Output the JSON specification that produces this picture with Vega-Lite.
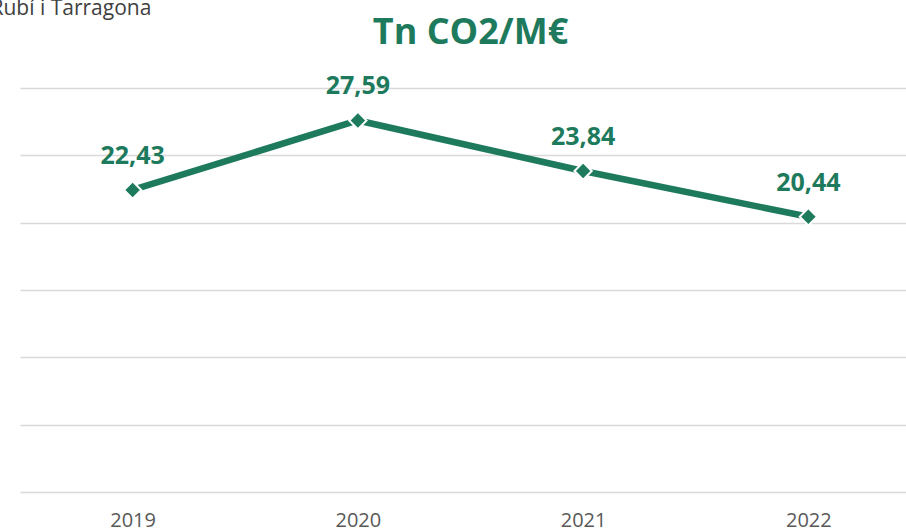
{
  "$schema": "https://vega.github.io/schema/vega-lite/v6.json",
  "autosize": {"type": "none"},
  "width": 901,
  "height": 404,
  "padding": {"left": 20, "top": 88, "right": 0, "bottom": 40},
  "background": "white",
  "title": {
    "text": "Tn CO2/M€",
    "font": "Open Sans",
    "fontSize": 36,
    "fontWeight": "bold",
    "color": "#1E7A5C",
    "anchor": "middle",
    "frame": "group",
    "offset": -55
  },
  "data": {
    "values": [
      {"year": "2019", "value": 22.43, "label": "22,43"},
      {"year": "2020", "value": 27.59, "label": "27,59"},
      {"year": "2021", "value": 23.84, "label": "23,84"},
      {"year": "2022", "value": 20.44, "label": "20,44"}
    ]
  },
  "encoding": {
    "x": {
      "field": "year",
      "type": "ordinal",
      "sort": null,
      "scale": {"type": "point", "padding": 0.5},
      "axis": {
        "title": null,
        "domain": false,
        "ticks": false,
        "labelAngle": 0,
        "labelPadding": 18,
        "labelFont": "Open Sans",
        "labelFontSize": 20,
        "labelColor": "#595959"
      }
    },
    "y": {
      "field": "value",
      "type": "quantitative",
      "scale": {"domain": [0, 30], "nice": false, "zero": true},
      "axis": {
        "values": [0, 5, 10, 15, 20, 25, 30],
        "labels": false,
        "ticks": false,
        "domain": false,
        "grid": true,
        "gridColor": "#D9D9D9",
        "gridWidth": 1.5,
        "title": "Rubí i Tarragona",
        "titleAngle": 0,
        "titleX": -30,
        "titleY": -74,
        "titleAlign": "left",
        "titleBaseline": "alphabetic",
        "titleFont": "Open Sans",
        "titleFontSize": 21,
        "titleFontWeight": "normal",
        "titleColor": "#404040"
      }
    }
  },
  "layer": [
    {
      "mark": {"type": "line", "color": "#1E7A5C", "strokeWidth": 6.5}
    },
    {
      "mark": {"type": "point", "shape": "diamond", "filled": true, "size": 300, "fill": "#1E7A5C", "stroke": "#FFFFFF", "strokeWidth": 2, "opacity": 1, "strokeOpacity": 1}
    },
    {
      "mark": {"type": "text", "dy": -34, "font": "Open Sans", "fontSize": 25, "fontWeight": "bold", "color": "#1E7A5C"},
      "encoding": {"text": {"field": "label"}}
    }
  ],
  "config": {"view": {"stroke": null}}
}
